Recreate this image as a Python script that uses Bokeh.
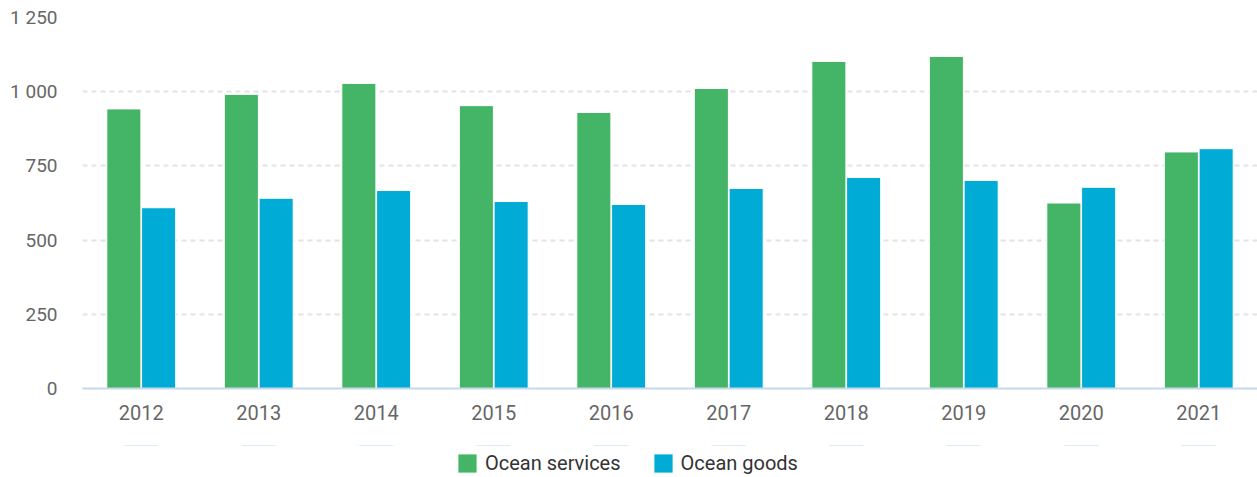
from bokeh.plotting import figure
from bokeh.layouts import column
from bokeh.models import ColumnDataSource, Legend, LegendItem, Range1d, FixedTicker
from bokeh.transform import dodge
from bokeh.embed import file_html
from bokeh.resources import INLINE

years = ["2012", "2013", "2014", "2015", "2016", "2017", "2018", "2019", "2020", "2021"]
ocean_services = [942, 991, 1028, 953, 930, 1011, 1102, 1119, 625, 797]
ocean_goods = [609, 641, 667, 630, 620, 674, 711, 701, 678, 808]
series_names = ["Ocean services", "Ocean goods"]
series_cols = ["services", "goods"]
series_colors = ["#44b566", "#00abd6"]
y_ticks = [0, 250, 500, 750, 1000, 1250]

src = ColumnDataSource(dict(year=years, services=ocean_services, goods=ocean_goods))

p = figure(x_range=years, width=1257, height=445, output_backend="svg",
           toolbar_location=None, min_border_left=82, min_border_right=0,
           min_border_top=17, min_border_bottom=57)
p.y_range = Range1d(0, 1250)
p.outline_line_color = None
p.background_fill_color = "white"

p.vbar(x=dodge("year", -0.148, range=p.x_range), top="services", width=0.29,
       source=src, fill_color=series_colors[0], line_color="white", line_width=1)
p.vbar(x=dodge("year", 0.148, range=p.x_range), top="goods", width=0.29,
       source=src, fill_color=series_colors[1], line_color="white", line_width=1)

p.xgrid.grid_line_color = None
p.ygrid.grid_line_color = "#e3e3e3"
p.ygrid.grid_line_width = 2
p.ygrid.grid_line_dash = "5 4"

p.yaxis.ticker = FixedTicker(ticks=y_ticks)
p.yaxis.major_label_overrides = {t: f"{t:,}".replace(",", " ") for t in y_ticks}
p.yaxis.axis_line_color = None
p.yaxis.major_tick_line_color = None
p.yaxis.minor_tick_line_color = None
p.yaxis.major_tick_out = 0
p.yaxis.minor_tick_out = 0
p.yaxis.major_label_text_font = "Roboto"
p.yaxis.major_label_text_font_size = "19px"
p.yaxis.major_label_text_color = "#666666"
p.yaxis.major_label_standoff = 25

p.xaxis.axis_line_color = "#c6d9ea"
p.xaxis.axis_line_width = 2
p.xaxis.major_tick_line_color = None
p.xaxis.minor_tick_line_color = None
p.xaxis.major_tick_out = 0
p.xaxis.minor_tick_out = 0
p.xaxis.major_label_text_font = "Roboto"
p.xaxis.major_label_text_font_size = "20px"
p.xaxis.major_label_text_color = "#666666"
p.xaxis.major_label_standoff = 16

# legend strip below the chart (same data, drawn outside the strip's visible range)
p2 = figure(x_range=years, width=1257, height=32, output_backend="svg", toolbar_location=None,
            x_axis_location=None, y_axis_location=None,
            min_border_left=82, min_border_right=0, min_border_top=0, min_border_bottom=0)
p2.y_range = Range1d(-2, -1)
p2.grid.visible = False
p2.outline_line_color = None
proxies = [p2.vbar(x="year", top=col, width=0.29, source=src, fill_color=c,
                   line_color="white", line_width=1)
           for col, c in zip(series_cols, series_colors)]

legend = Legend(items=[LegendItem(label=n, renderers=[r]) for n, r in zip(series_names, proxies)],
                orientation="horizontal", location=(373, 2))
legend.label_text_font = "Roboto"
legend.label_text_font_size = "20px"
legend.label_text_color = "#333333"
legend.glyph_width = 24
legend.glyph_height = 24
legend.spacing = 30
legend.label_standoff = 6
legend.border_line_color = None
legend.background_fill_alpha = 0
legend.margin = 0
legend.padding = 0
p2.add_layout(legend, "center")

open("out.html", "w").write(file_html(column(p, p2, spacing=0), INLINE))
